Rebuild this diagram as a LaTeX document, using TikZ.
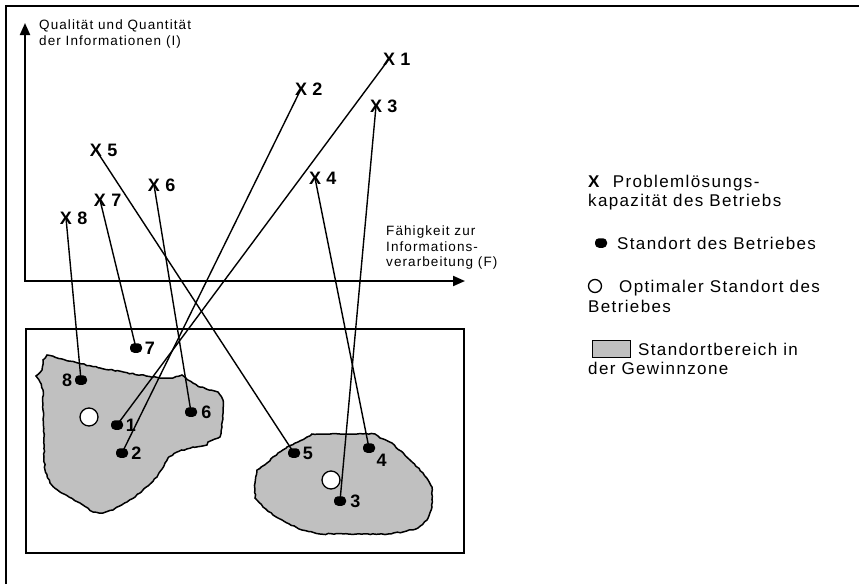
\documentclass[tikz,border=0pt]{standalone}
\usepackage{fontspec}
\setmainfont[LetterSpace=8]{Liberation Sans}
\usepackage{xcolor}
\usetikzlibrary{arrows.meta, decorations.pathmorphing}
\definecolor{gewinngrau}{RGB}{192,192,192}

\begin{document}
\begin{tikzpicture}[x = 1pt, y = -1pt,
  kreuz/.style = {font=\fontsize{18}{21}\selectfont\bfseries, inner sep=0pt},
  nummer/.style = {font=\fontsize{18}{21}\selectfont\bfseries, inner sep=0pt},
  standort/.style = {fill=black, rounded corners=4pt, minimum width=12pt, minimum height=9.5pt, inner sep=0pt},
  optimum/.style = {circle, draw, fill=white, line width=1.3pt, minimum size=18pt, inner sep=0pt},
  bereich/.style = {fill=gewinngrau, draw, line width=1.5pt, decorate, decoration={random steps, segment length=3pt, amplitude=0.6pt}},
  verbindung/.style = {line width=1.4pt},
  achse/.style = {font=\fontsize{13.5}{15.5}\selectfont, align=left, inner sep=0pt, anchor=west},
  legende/.style = {font=\fontsize{17}{19.5}\selectfont, align=left, inner sep=0pt, anchor=west}]
  \useasboundingbox (0,0) rectangle (859,584);
  \pgfmathsetseed{3}

  \draw[line width=2pt] (6,584) -- (6,6) -- (859,6);

  % axes
  \coordinate (O) at (25,281);
  \coordinate (Iend) at (25,23);
  \coordinate (Fend) at (465,281);
  \draw[line width=2pt, {Triangle[width=10pt,length=12pt]}-{Triangle[width=10pt,length=12pt]}] (Iend) -- (O) -- (Fend);
  \node[achse] (ylab) at (39,34) {Qualität und Quantität\\der Informationen (I)};
  \node[achse] (xlab) at (386,248) {Fähigkeit zur\\Informations-\\verarbeitung (F)};

  % Standortbereiche
  \draw[line width=1.3pt] (26,329) rectangle (464,553);
  \draw[bereich] (47,355) -- (78,363) -- (100,368) -- (140,375) -- (163,378) -- (173,378) -- (182,375) -- (188,380) -- (200,387) -- (218,392) -- (223,400) -- (223,410) -- (222,427) -- (220,437) -- (208,442) -- (207,445) -- (193,447) -- (177,452) -- (168,458) -- (157,477) -- (140,493) -- (127,502) -- (113,510) -- (103,513) -- (93,512) -- (80,503) -- (60,492) -- (50,483) -- (45,470) -- (44,457) -- (44,437) -- (43,410) -- (43,390) -- (40,382) -- (36,376) -- (42,370) -- (43,360) -- cycle;
  \draw[bereich] (312,434) -- (375,434) -- (380,438) -- (392,443) -- (410,460) -- (423,473) -- (432,487) -- (432,507) -- (427,520) -- (418,528) -- (403,532) -- (388,534) -- (320,534) -- (302,530) -- (287,523) -- (273,515) -- (263,507) -- (255,498) -- (255,483) -- (257,470) -- (267,463) -- (278,453) -- (287,447) -- (298,442) -- (307,437) -- cycle;

  \node[optimum] (opt1) at (89,417) {};
  \node[optimum] (opt2) at (331,480) {};

  % Standorte
  \node[standort, label={[nummer, label distance=2.5pt]right:1}] (s1) at (117,425) {};
  \node[standort, label={[nummer, label distance=3pt]right:2}] (s2) at (122,453) {};
  \node[standort, label={[nummer, label distance=4pt]right:3}] (s3) at (340,501) {};
  \node[standort, label={[nummer, label distance=1.5pt]south east:4}] (s4) at (369,448) {};
  \node[standort, label={[nummer, label distance=2.5pt]right:5}] (s5) at (294,453) {};
  \node[standort, label={[nummer, label distance=4pt]right:6}] (s6) at (191,412) {};
  \node[standort, label={[nummer, label distance=2.5pt]right:7}] (s7) at (136,348) {};
  \node[standort, label={[nummer, label distance=2.5pt]left:8}] (s8) at (81,380) {};

  % Problemloesungskapazitaet
  \node[kreuz, label={[nummer, label distance=5pt]right:1}] (x1) at (389,59) {X};
  \node[kreuz, label={[nummer, label distance=5pt]right:2}] (x2) at (301,89) {X};
  \node[kreuz, label={[nummer, label distance=5pt]right:3}] (x3) at (376,106) {X};
  \node[kreuz, label={[nummer, label distance=5pt]right:4}] (x4) at (315,178) {X};
  \node[kreuz, label={[nummer, label distance=5pt]right:5}] (x5) at (96,150) {X};
  \node[kreuz, label={[nummer, label distance=5pt]right:6}] (x6) at (154,185) {X};
  \node[kreuz, label={[nummer, label distance=5pt]right:7}] (x7) at (100,200) {X};
  \node[kreuz, label={[nummer, label distance=5pt]right:8}] (x8) at (66,218) {X};

  \foreach \i in {1,...,8}
    \draw[verbindung] (x\i.center) -- (s\i.center);

  % Legende
  \node[legende] (leg1) at (588,192.5) {\textbf{X}\hspace{12pt}Problemlösungs-\\kapazität des Betriebs};
  \node[standort] (legs) at (601,243) {};
  \node[legende] (leg2) at (617,243) {Standort des Betriebes};
  \node[optimum, minimum size=13pt] (lego) at (595,286) {};
  \node[legende] (leg3) at (588,296.5) {\hspace*{31pt}Optimaler Standort des\\Betriebes};
  \node[draw, fill=gewinngrau, line width=1pt, minimum width=38pt, minimum height=17pt, inner sep=0pt] (legb) at (611,348.5) {};
  \node[legende] (leg4) at (588,359) {\hspace*{50pt}Standortbereich in\\der Gewinnzone};
\end{tikzpicture}
\end{document}
